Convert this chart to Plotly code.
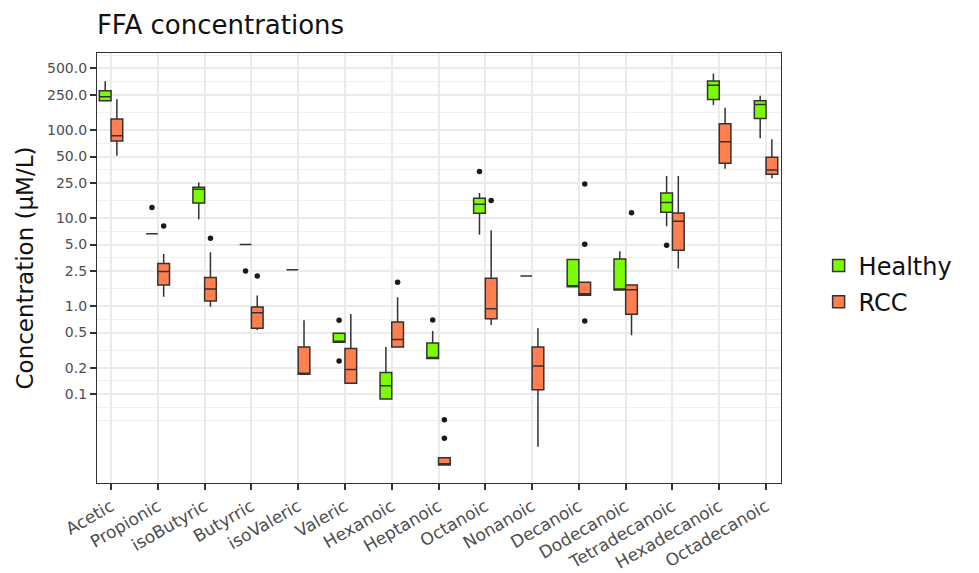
import plotly.graph_objects as go
import math

categories = ["Acetic", "Propionic", "isoButyric", "Butyrric", "isoValeric", "Valeric",
              "Hexanoic", "Heptanoic", "Octanoic", "Nonanoic", "Decanoic", "Dodecanoic",
              "Tetradecanoic", "Hexadecanoic", "Octadecanoic"]

# Healthy box statistics (µM/L)
healthy_lower = [212, 6.65, 9.66, 5.0, 2.58, 0.388, 0.0877, 0.253, 6.47, 2.2, 1.655, 1.52, 8.05, 192, 80.5]
healthy_q1 = [215, 6.65, 14.8, 5.0, 2.58, 0.388, 0.0877, 0.253, 11.3, 2.2, 1.655, 1.52, 11.6, 222, 135]
healthy_median = [238, 6.65, 21.3, 5.0, 2.58, 0.398, 0.124, 0.260, 14.3, 2.2, 1.67, 1.55, 15.0, 323, 195]
healthy_q3 = [279, 6.65, 22.4, 5.0, 2.58, 0.491, 0.176, 0.381, 16.8, 2.2, 3.38, 3.43, 19.2, 361, 215]
healthy_upper = [359, 6.65, 25.4, 5.0, 2.58, 0.491, 0.343, 0.521, 19.2, 2.2, 3.38, 4.2, 30.1, 438, 245]
healthy_out_cats = ["Propionic", "Butyrric", "Valeric", "Valeric", "Heptanoic", "Octanoic", "Tetradecanoic"]
healthy_out_vals = [13.2, 2.51, 0.689, 0.238, 0.694, 33.8, 4.9]

# RCC box statistics (µM/L)
rcc_lower = [51, 1.28, 0.98, 0.535, 0.168, 0.133, 0.343, 0.0157, 0.61, 0.0253, 1.33, 0.466, 2.67, 36.2, 28.4]
rcc_q1 = [75, 1.73, 1.14, 0.558, 0.168, 0.133, 0.343, 0.0157, 0.719, 0.112, 1.33, 0.805, 4.31, 42, 31.5]
rcc_median = [86, 2.47, 1.56, 0.84, 0.173, 0.190, 0.416, 0.01614, 0.933, 0.209, 1.38, 1.53, 9.17, 73.8, 35.2]
rcc_q3 = [133, 3.04, 2.11, 0.974, 0.343, 0.329, 0.659, 0.01886, 2.07, 0.343, 1.87, 1.74, 11.4, 118, 49]
rcc_upper = [224, 3.91, 4.09, 1.32, 0.689, 0.812, 1.26, 0.01886, 7.25, 0.558, 1.87, 1.74, 30.1, 179, 78.3]
rcc_out_cats = ["Propionic", "isoButyric", "Butyrric", "Hexanoic", "Heptanoic", "Heptanoic",
                "Octanoic", "Decanoic", "Decanoic", "Decanoic", "Dodecanoic"]
rcc_out_vals = [8.12, 5.89, 2.2, 1.87, 0.0512, 0.0315, 15.85, 24.3, 5.03, 0.676, 11.5]

y_ticks = [0.1, 0.2, 0.5, 1.0, 2.5, 5.0, 10.0, 25.0, 50.0, 100.0, 250.0, 500.0]

groups = ["Healthy", "RCC"]
colors = {"Healthy": "#7CFC00", "RCC": "#FF7F50"}
DODGE = 0.125
BOXW = 0.25
idx = {c: i for i, c in enumerate(categories)}

fig = go.Figure()
stats = {
    "Healthy": (healthy_lower, healthy_q1, healthy_median, healthy_q3, healthy_upper,
                healthy_out_cats, healthy_out_vals, -DODGE),
    "RCC": (rcc_lower, rcc_q1, rcc_median, rcc_q3, rcc_upper, rcc_out_cats, rcc_out_vals, DODGE),
}
for g in groups:
    lo, q1, med, q3, up, oc, ov, off = stats[g]
    xs = [i + off for i in range(len(categories))]
    fig.add_trace(go.Box(
        name=g, legendgroup=g, x=xs, q1=q1, median=med, q3=q3,
        lowerfence=lo, upperfence=up, width=BOXW,
        fillcolor=colors[g], line=dict(color="#333333", width=1.5),
        whiskerwidth=0, boxpoints=False, hoverinfo="skip",
    ))
    fig.add_trace(go.Scatter(
        x=[idx[c] + off for c in oc], y=ov, mode="markers",
        marker=dict(color="#1a1a1a", size=5.5), showlegend=False,
        legendgroup=g, hoverinfo="skip",
    ))

# ggplot-style minor grid lines: log-midpoints between breaks (extended by one step)
lt = [math.log10(v) for v in y_ticks]
step = lt[1] - lt[0]
ext = [lt[0] - step] + lt + [lt[-1] + step]
minor_vals = [10 ** ((a + b) / 2) for a, b in zip(ext[:-1], ext[1:])] + [10 ** ext[0]]

fig.update_layout(
    width=979, height=573,
    margin=dict(l=97, r=198, t=53, b=90, autoexpand=False),
    paper_bgcolor="white", plot_bgcolor="white",
    font=dict(family="DejaVu Sans", color="#000000"),
    title=dict(text="FFA concentrations", x=0.099, xref="container", xanchor="left",
               y=0.956, yref="container", yanchor="middle",
               font=dict(size=26, color="#111111")),
    showlegend=True,
    legend=dict(x=1.055, xanchor="left", y=0.463, yanchor="middle",
                font=dict(size=24, color="#111111"), tracegroupgap=2,
                bgcolor="rgba(0,0,0,0)"),
    boxmode="overlay",
)
fig.update_xaxes(
    range=[-0.3, 14.32], tickmode="array", tickvals=list(range(len(categories))),
    ticktext=categories, tickangle=-30, tickfont=dict(size=17, color="#4D4D4D"),
    showgrid=True, gridcolor="#EBEBEB", gridwidth=1.5, zeroline=False,
    ticks="outside", ticklen=6, tickwidth=1.5, tickcolor="#333333",
    showline=True, mirror=True, linecolor="#333333", linewidth=1.2, automargin=False,
)
fig.update_yaxes(
    type="log", range=[-2.01, 2.875], tickmode="array", tickvals=y_ticks,
    ticktext=[f"{v:.1f}" for v in y_ticks], tickfont=dict(size=14, color="#4D4D4D"),
    showgrid=True, gridcolor="#EBEBEB", gridwidth=1.5, zeroline=False,
    minor=dict(tickmode="array", tickvals=minor_vals, showgrid=True,
               gridcolor="#F0F0F0", gridwidth=1, ticks=""),
    ticks="outside", ticklen=6, tickwidth=1.5, tickcolor="#333333",
    showline=True, mirror=True, linecolor="#333333", linewidth=1.2, automargin=False,
    title=dict(text="Concentration (µM/L)", font=dict(size=23, color="#111111"), standoff=6),
)

fig.write_html("out.html", config={"displayModeBar": False},
               post_script="document.body.style.margin='0';document.body.style.overflow='hidden';")
